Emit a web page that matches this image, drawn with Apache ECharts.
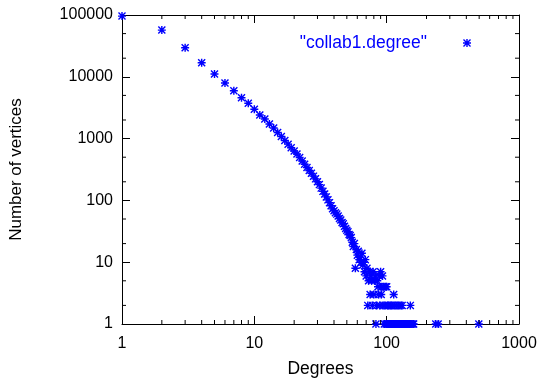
<!DOCTYPE html>
<html>
<head>
<meta charset="utf-8">
<script src="https://cdn.jsdelivr.net/npm/echarts@6/dist/echarts.min.js"></script>
<style>html,body{margin:0;padding:0;background:#fff}#c{width:541px;height:378px}</style>
</head>
<body>
<div id="c"></div>
<script>
// ---- data ----
const seriesName = '"collab1.degree"';
const degrees = [1,2,3,4,5,6,7,8,9,10,11,12,13,14,15,16,17,18,19,20,21,22,23,24,25,26,27,28,29,30,
  31,32,33,34,35,36,37,38,39,40,41,42,43,44,45,46,47,48,49,50,51,52,53,54,
  55,56,57,58,59,60,61,62,63,64,65,66,67,68,69,70,71,72,73,74,75,76,77,78,79,80,
  81,82,83,84,85,86,87,88,89,90,91,92,93,94,95,96,97,98,99,100,101,102,103,104,105,106,107,108,109,110,
  111,112,113,114,115,116,117,118,119,120,121,122,123,124,125,126,127,128,129,130,131,132,134,136,138,140,142,145,148,151,152,155,158,160,235,245,497];
const counts = [96000,57000,29600,16900,11100,7940,5960,4590,3725,2980,2410,2075,1722,1485,1259,1079,934,813,713,631,562,495,434,385,341,305,274,247,223,200,
  180,158,140,127,114,102,92,82,73,68,63,60,56,51,48,44,42,38,35,33,31,28,27,25,
  21,18,20,8,16,13,15,11,12,10,14,9,10,7,11,6,8,2,5,7,3,6,5,2,7,3,
  5,6,1,2,5,4,3,6,2,7,3,4,6,2,4,1,2,4,1,4,1,2,1,2,1,1,2,1,1,2,
  1,1,3,1,2,1,1,1,2,1,1,1,2,1,1,1,1,2,1,1,2,1,1,1,1,1,1,1,1,2,1,1,1,1,1,1,1];
const xTicks = [1,10,100,1000];
const yTicks = [1,10,100,1000,10000,100000];
const xMinor = [2,3,4,5,6,7,8,9,20,30,40,50,60,70,80,90,200,300,400,500,600,700,800,900];
const yMinor = [2,5,20,50,200,500,2000,5000,20000,50000];
const xTitle = 'Degrees';
const yTitle = 'Number of vertices';

// ---- chart ----
const FONT = '"Liberation Sans", Arial, sans-serif';
const BLUE = '#0000ff';
const star = 'path://M3.7,0L5.3,0L5.3,9L3.7,9Z M0,3.7L9,3.7L9,5.3L0,5.3Z M0,1.1L1.1,0L9,7.9L7.9,9Z M7.9,0L9,1.1L1.1,9L0,7.9Z';
const xMin = xTicks[0], xMax = xTicks[xTicks.length-1];
const yMin = yTicks[0], yMax = yTicks[yTicks.length-1];
const fmt = v => String(Math.round(v));

function axisCommon(extra) {
  return Object.assign({
    type: 'log', logBase: 10,
    axisLine: {show: true, lineStyle: {color: '#000', width: 1}},
    axisTick: {show: true, inside: true, length: 8, lineStyle: {color: '#000'}},
    minorTick: {show: false},
    splitLine: {show: false},
  }, extra);
}

const chart = echarts.init(document.getElementById('c'), null, {renderer: 'canvas'});
chart.setOption({
  animation: false,
  backgroundColor: '#fff',
  textStyle: {fontFamily: FONT},
  grid: {left: 122, right: 22, top: 15, bottom: 54, containLabel: false, outerBoundsMode: 'none'},
  legend: {
    data: [{name: seriesName, icon: star}],
    right: 65, top: 29, align: 'right',
    itemWidth: 8, itemHeight: 8,
    textStyle: {color: BLUE, fontSize: 17.5, fontFamily: FONT, padding: [0, 31, 0, 0]}
  },
  xAxis: [
    axisCommon({position: 'bottom', min: xMin, max: xMax,
      name: xTitle, nameLocation: 'middle', nameGap: 36,
      nameTextStyle: {color: '#000', fontSize: 17.5, fontFamily: FONT},
      axisLabel: {color: '#000', fontSize: 16, fontFamily: FONT, margin: 12, formatter: fmt}}),
    axisCommon({position: 'top', min: xMin, max: xMax, axisLabel: {show: false}})
  ],
  yAxis: [
    axisCommon({position: 'left', min: yMin, max: yMax,
      name: yTitle, nameLocation: 'middle', nameGap: 97, nameRotate: 90,
      nameTextStyle: {color: '#000', fontSize: 17, fontFamily: FONT},
      axisLabel: {color: '#000', fontSize: 16, fontFamily: FONT, margin: 9, formatter: fmt}}),
    axisCommon({position: 'right', min: yMin, max: yMax, axisLabel: {show: false}})
  ],
  series: [
    {
      name: seriesName, type: 'scatter', xAxisIndex: 0, yAxisIndex: 0,
      symbol: star, symbolSize: 8, clip: false,
      itemStyle: {color: BLUE, opacity: 1},
      data: degrees.map((d, i) => [d, counts[i]]),
      z: 3
    },
    {
      type: 'custom', xAxisIndex: 0, yAxisIndex: 0, silent: true, clip: false, z: 5,
      data: xMinor.map(v => [v, yMin]),
      renderItem: (params, api) => {
        const x = api.value(0);
        const b = api.coord([x, yMin]);
        const t = api.coord([x, yMax]);
        return {type: 'group', children: [
          {type: 'line', shape: {x1: b[0], y1: b[1], x2: b[0], y2: b[1] - 4}, style: {stroke: '#000', lineWidth: 1}},
          {type: 'line', shape: {x1: t[0], y1: t[1], x2: t[0], y2: t[1] + 4}, style: {stroke: '#000', lineWidth: 1}}
        ]};
      }
    },
    {
      type: 'custom', xAxisIndex: 0, yAxisIndex: 0, silent: true, clip: false, z: 5,
      data: yMinor.map(v => [xMin, v]),
      renderItem: (params, api) => {
        const y = api.value(1);
        const l = api.coord([xMin, y]);
        const r = api.coord([xMax, y]);
        return {type: 'group', children: [
          {type: 'line', shape: {x1: l[0], y1: l[1], x2: l[0] + 4, y2: l[1]}, style: {stroke: '#000', lineWidth: 1}},
          {type: 'line', shape: {x1: r[0], y1: r[1], x2: r[0] - 4, y2: r[1]}, style: {stroke: '#000', lineWidth: 1}}
        ]};
      }
    }
  ]
});
</script>
</body>
</html>
